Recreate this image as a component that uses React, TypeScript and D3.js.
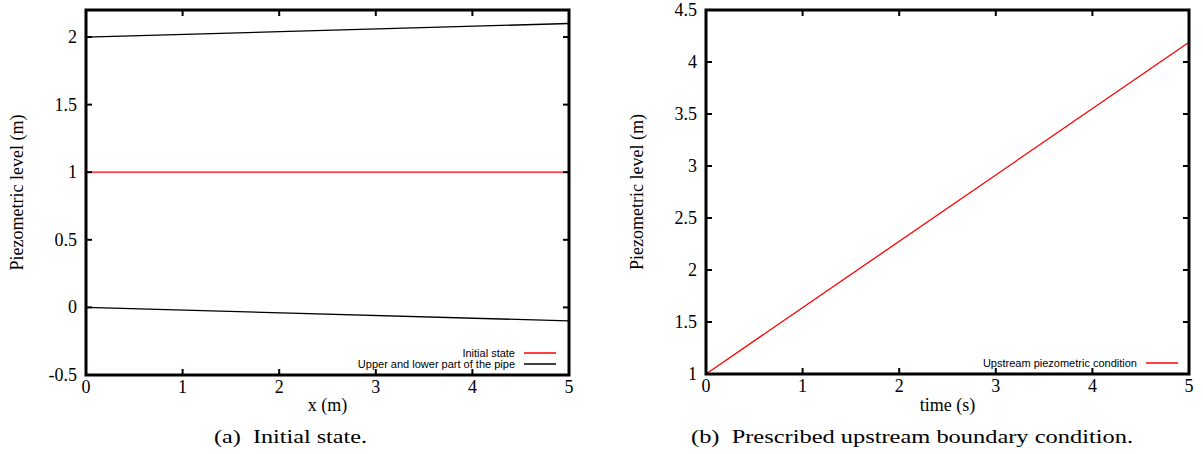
import React from "react";
import * as d3 from "d3";

const xTicks = [0, 1, 2, 3, 4, 5];
const leftYTicks = [-0.5, 0, 0.5, 1, 1.5, 2];
const rightYTicks = [1, 1.5, 2, 2.5, 3, 3.5, 4, 4.5];

const pipeX = [0, 5];
const upperPipe = [2, 2.1];
const lowerPipe = [0, -0.1];
const initialState = [1, 1];

const timeX = [0, 5];
const upstreamLevel = [1, 4.19];

const serif = "'Liberation Serif', 'DejaVu Serif', serif";
const sans = "'Liberation Sans', Arial, sans-serif";

type Series = { xs: number[]; ys: number[]; color: string; label: string };

function Panel(props: {
  left: number; right: number; top: number; bottom: number;
  yDomain: [number, number]; yTicks: number[]; xTitle: string; caption: string;
  captionX: number; captionW: number;
  series: Series[]; legendEndX: number; legendRows: { label: string; color: string }[];
}) {
  const { left, right, top, bottom, yDomain, yTicks, xTitle, caption, captionX, captionW, series, legendEndX, legendRows } = props;
  const x = d3.scaleLinear().domain([0, 5]).range([left, right]);
  const y = d3.scaleLinear().domain(yDomain).range([bottom, top]);
  const line = d3.line<[number, number]>().x((d) => x(d[0])).y((d) => y(d[1]));
  const tl = 6;
  const cx = (left + right) / 2;
  const nRows = legendRows.length;
  return (
    <g>
      {series.map((s, i) => (
        <path key={i} d={line(s.xs.map((v, j) => [v, s.ys[j]] as [number, number])) || ""}
          fill="none" stroke={s.color} strokeWidth={1.3} />
      ))}
      {xTicks.map((t) => (
        <g key={"x" + t}>
          <line x1={x(t)} x2={x(t)} y1={bottom} y2={bottom - tl} stroke="#000" strokeWidth={2} />
          <line x1={x(t)} x2={x(t)} y1={top} y2={top + tl} stroke="#000" strokeWidth={2} />
          <text x={x(t)} y={bottom + 18} fontFamily={serif} fontSize={18} textAnchor="middle">{t}</text>
        </g>
      ))}
      {yTicks.map((t) => (
        <g key={"y" + t}>
          <line x1={left} x2={left + tl} y1={y(t)} y2={y(t)} stroke="#000" strokeWidth={2} />
          <line x1={right} x2={right - tl} y1={y(t)} y2={y(t)} stroke="#000" strokeWidth={2} />
          <text x={left - 9} y={y(t)} dy="0.33em" fontFamily={serif} fontSize={18} textAnchor="end">{t}</text>
        </g>
      ))}
      <rect x={left} y={top} width={right - left} height={bottom - top} fill="none" stroke="#000" strokeWidth={3} />
      {legendRows.map((r, i) => {
        const yy = bottom - 11 - (nRows - 1 - i) * 11;
        return (
          <g key={"l" + i}>
            <text x={legendEndX} y={yy} dy="0.35em" fontFamily={sans} fontSize={11} textAnchor="end">{r.label}</text>
            <line x1={legendEndX + 9} x2={legendEndX + 41} y1={yy} y2={yy} stroke={r.color} strokeWidth={1.5} />
          </g>
        );
      })}
      <text x={cx} y={411} fontFamily={serif} fontSize={18} textAnchor="middle">{xTitle}</text>
      <text transform={`translate(${left - 63},${(top + bottom) / 2}) rotate(-90)`} fontFamily={serif} fontSize={18} textAnchor="middle">Piezometric level (m)</text>
      <text x={captionX} y={443} fontFamily={serif} fontSize={19} textLength={captionW} lengthAdjust="spacingAndGlyphs" xmlSpace="preserve" style={{ whiteSpace: "pre" }}>{caption}</text>
    </g>
  );
}

export default function App() {
  return (
    <svg width={1203} height={454} style={{ position: "absolute", left: 0, top: 0, background: "#fff" }}>
      <rect width={1203} height={454} fill="#fff" />
      <Panel left={86} right={569} top={10} bottom={375} yDomain={[-0.5, 2.2]} yTicks={leftYTicks}
        xTitle="x (m)" caption="(a)  Initial state." captionX={214} captionW={153}
        series={[
          { xs: pipeX, ys: initialState, color: "#ff0000", label: "Initial state" },
          { xs: pipeX, ys: upperPipe, color: "#000", label: "" },
          { xs: pipeX, ys: lowerPipe, color: "#000", label: "" },
        ]}
        legendEndX={515}
        legendRows={[{ label: "Initial state", color: "#ff0000" }, { label: "Upper and lower part of the pipe", color: "#000" }]} />
      <Panel left={706} right={1189} top={10} bottom={374} yDomain={[1, 4.5]} yTicks={rightYTicks}
        xTitle="time (s)" caption="(b)  Prescribed upstream boundary condition." captionX={691} captionW={442}
        series={[{ xs: timeX, ys: upstreamLevel, color: "#ff0000", label: "Upstream piezometric condition" }]}
        legendEndX={1137}
        legendRows={[{ label: "Upstream piezometric condition", color: "#ff0000" }]} />
    </svg>
  );
}
